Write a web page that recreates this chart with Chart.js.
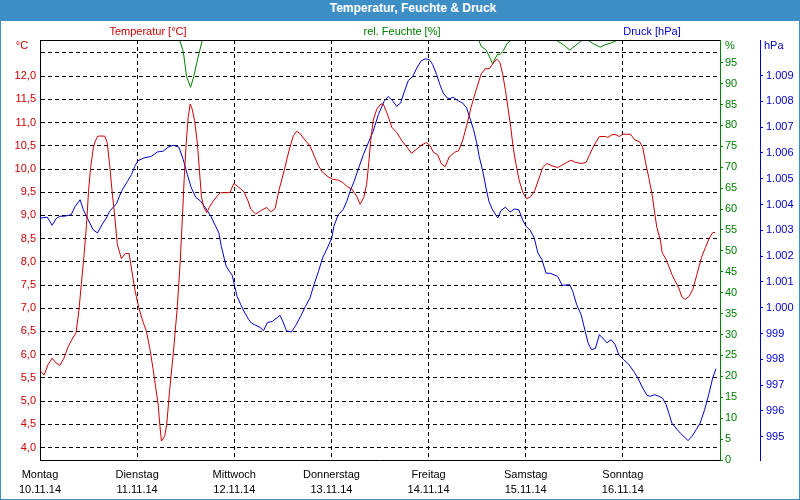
<!DOCTYPE html>
<html>
<head>
<meta charset="utf-8">
<script src="https://cdn.jsdelivr.net/npm/chart.js@4.4.0/dist/chart.umd.min.js"></script>
<style>
body { margin: 0; background: #fff; }
#frame { width: 798px; height: 498px; border: 1px solid #3d8ec4; position: relative; background: #fff; }
#title { height: 20px; line-height: 20px; background: #3d8ec4; color: #fff; font: bold 12px "Liberation Sans", Arial, sans-serif; text-align: center; padding-left: 26px; }
#chart { display: block; }
</style>
</head>
<body>
<div id="frame">
<div id="title">Temperatur, Feuchte &amp; Druck</div>
<canvas id="chart" width="798" height="478"></canvas>
</div>
<script>
const days = ['Montag', 'Dienstag', 'Mittwoch', 'Donnerstag', 'Freitag', 'Samstag', 'Sonntag'];
const dates = ['10.11.14', '11.11.14', '12.11.14', '13.11.14', '14.11.14', '15.11.14', '16.11.14'];

// hours since Monday 00:00
const tempHours = [0, 1.0, 2.0, 3.0, 4.0, 4.9, 5.9, 6.9, 7.9, 8.9, 9.6, 10.2, 10.9, 11.5, 12.0, 12.5, 13.2, 13.7, 14.3, 16.0,
    16.6, 17.2, 17.8, 18.5, 19.1, 20.1, 21.1, 22.0, 22.7, 23.5, 24.4, 25.4, 26.3, 27.1, 27.9, 28.5, 29.2, 29.6, 30.0, 30.8,
    31.3, 32.0, 32.9, 33.9, 34.6, 35.1, 35.6, 36.1, 36.6, 37.1, 37.6, 38.2, 38.9, 39.4, 39.9, 40.5, 41.2, 41.8, 42.8, 43.8,
    44.6, 46.9, 47.9, 49.2, 50.4, 51.4, 52.1, 53.3, 54.7, 56.0, 57.1, 58.1, 59.0, 60.3, 61.5, 62.6, 63.4, 64.2, 65.2, 66.7,
    67.7, 68.8, 69.8, 71.2, 72.3, 73.7, 74.8, 75.9, 77.0, 78.2, 79.1, 80.0, 80.7, 81.2, 81.7, 82.3, 83.2, 84.2, 84.8, 85.8,
    86.9, 88.1, 89.4, 90.6, 91.8, 93.1, 94.3, 95.5, 96.4, 97.2, 98.2, 99.2, 100.1, 101.1, 102.4, 103.4, 104.4, 105.4, 106.5, 107.7,
    109.0, 110.0, 111.0, 111.8, 112.8, 113.6, 114.3, 115.0, 115.6, 116.3, 116.9, 117.6, 118.4, 119.3, 120.2, 121.2, 122.2, 123.2, 124.2, 125.2,
    126.5, 127.9, 129.1, 130.1, 131.2, 132.4, 133.7, 134.9, 135.7, 136.8, 138.2, 139.7, 140.3, 141.3, 142.3, 143.1, 144.0, 145.9, 146.9, 148.1,
    148.9, 149.7, 150.4, 151.2, 151.9, 152.4, 153.3, 153.7, 154.7, 155.5, 156.1, 156.9, 157.8, 158.6, 159.4, 160.4, 161.3, 162.3, 163.4, 164.4,
    165.4, 166.2, 166.8];
const tempValues = [5.66, 5.56, 5.79, 5.92, 5.82, 5.77, 5.92, 6.16, 6.33, 6.47, 6.94, 7.51, 8.16, 8.81, 9.53, 10.03, 10.47, 10.61, 10.71, 10.71,
    10.57, 10.1, 9.53, 8.95, 8.38, 8.07, 8.18, 8.18, 7.8, 7.37, 7.01, 6.72, 6.5, 6.15, 5.71, 5.35, 4.92, 4.49, 4.14, 4.24,
    4.49, 5.21, 6.0, 7.0, 7.95, 8.81, 9.75, 10.54, 11.11, 11.40, 11.29, 11.04, 10.54, 9.96, 9.39, 9.17, 9.06, 9.17, 9.31, 9.42,
    9.49, 9.49, 9.69, 9.6, 9.51, 9.31, 9.13, 9.03, 9.11, 9.17, 9.08, 9.15, 9.53, 9.96, 10.39, 10.72, 10.81, 10.77, 10.65, 10.5,
    10.29, 10.07, 9.93, 9.83, 9.78, 9.76, 9.71, 9.62, 9.57, 9.42, 9.24, 9.39, 9.67, 10.11, 10.61, 11.04, 11.29, 11.40, 11.40, 11.19,
    10.9, 10.79, 10.61, 10.48, 10.34, 10.43, 10.52, 10.57, 10.5, 10.36, 10.31, 10.11, 10.05, 10.26, 10.36, 10.39, 10.61, 10.93, 11.33, 11.69,
    12.05, 12.16, 12.16, 12.26, 12.37, 12.3, 12.05, 11.69, 11.33, 10.9, 10.47, 10.1, 9.75, 9.49, 9.36, 9.4, 9.53, 9.78, 10.03, 10.12,
    10.07, 10.03, 10.09, 10.14, 10.19, 10.14, 10.12, 10.14, 10.29, 10.5, 10.7, 10.7, 10.68, 10.74, 10.74, 10.7, 10.75, 10.75, 10.63, 10.59,
    10.47, 10.1, 9.82, 9.46, 9.03, 8.74, 8.45, 8.2, 8.05, 7.87, 7.73, 7.59, 7.44, 7.24, 7.19, 7.26, 7.41, 7.73, 8.09, 8.31,
    8.52, 8.63, 8.63];

const presHours = [0, 1.8, 3.0, 4.0, 4.9, 6.1, 7.7, 8.7, 9.9, 10.7, 11.7, 13.1, 14.2, 15.3, 16.4, 17.2, 18.9, 20.1, 21.6, 22.6,
    23.4, 24.2, 25.7, 27.5, 29.0, 30.4, 31.6, 32.9, 34.3, 35.4, 36.4, 37.4, 38.5, 39.7, 40.9, 42.2, 43.4, 44.2, 44.8, 45.5,
    46.0, 46.8, 47.5, 48.1, 48.7, 49.6, 50.6, 51.6, 52.2, 53.3, 54.4, 55.2, 56.2, 57.4, 59.3, 60.0, 60.9, 62.1, 63.2, 64.4,
    65.6, 66.7, 67.7, 68.8, 69.8, 71.0, 72.1, 72.6, 73.7, 74.9, 75.8, 76.6, 77.6, 78.6, 79.9, 81.1, 82.3, 83.6, 85.0, 86.0,
    87.1, 88.1, 89.1, 89.9, 91.0, 92.1, 93.1, 94.1, 95.1, 96.2, 97.0, 98.0, 98.8, 99.6, 100.6, 101.3, 102.1, 103.2, 104.4, 105.4,
    106.2, 107.1, 107.9, 108.5, 109.4, 110.2, 110.9, 111.8, 113.1, 113.9, 115.0, 116.1, 117.2, 118.3, 119.3, 120.1, 121.1, 122.1, 123.0, 124.0,
    125.0, 126.2, 127.9, 129.0, 130.9, 131.6, 132.6, 133.7, 134.7, 135.4, 136.2, 137.2, 138.2, 139.0, 140.1, 141.1, 142.1, 143.0, 144.2, 145.4,
    146.7, 147.7, 148.9, 150.0, 150.8, 151.9, 152.9, 153.8, 154.7, 155.5, 156.1, 157.1, 158.2, 159.3, 160.1, 161.1, 162.1, 163.1, 164.2, 165.2,
    166.2, 167.0];
const presValues = [1003.48, 1003.51, 1003.2, 1003.46, 1003.55, 1003.55, 1003.61, 1003.93, 1004.19, 1003.8, 1003.48, 1003.03, 1002.9, 1003.22, 1003.48, 1003.74, 1004.04, 1004.51, 1004.9, 1005.16,
    1005.48, 1005.7, 1005.81, 1005.87, 1006.04, 1006.07, 1006.22, 1006.3, 1006.23, 1005.74, 1005.16, 1004.64, 1004.28, 1004.13, 1003.87, 1003.55, 1003.16, 1002.9, 1002.38, 1001.93,
    1001.61, 1001.41, 1001.26, 1000.83, 1000.44, 1000.12, 999.8, 999.54, 999.41, 999.32, 999.24, 999.11, 999.43, 999.47, 999.71, 999.47, 999.11, 999.06, 999.32, 999.67,
    1000.06, 1000.38, 1000.9, 1001.41, 1001.93, 1002.32, 1002.71, 1003.16, 1003.61, 1003.81, 1004.13, 1004.51, 1004.9, 1005.36, 1005.94, 1006.39, 1006.84, 1007.49, 1008.0, 1008.19,
    1008.03, 1007.81, 1007.94, 1008.33, 1008.81, 1008.97, 1009.3, 1009.56, 1009.65, 1009.62, 1009.43, 1009.04, 1008.65, 1008.33, 1008.13, 1008.11, 1008.16, 1008.03, 1007.94, 1007.75,
    1007.36, 1006.91, 1006.39, 1005.87, 1005.29, 1004.64, 1004.13, 1003.8, 1003.48, 1003.77, 1003.9, 1003.71, 1003.83, 1003.8, 1003.38, 1003.16, 1003.0, 1002.71, 1002.13, 1001.87,
    1001.35, 1001.33, 1001.22, 1000.87, 1000.9, 1000.64, 1000.12, 999.73, 999.09, 998.64, 998.38, 998.42, 998.96, 998.83, 998.64, 998.77, 998.57, 998.18, 997.99, 997.82,
    997.53, 997.28, 996.89, 996.6, 996.57, 996.63, 996.57, 996.5, 996.24, 995.85, 995.53, 995.34, 995.14, 994.98, 994.85, 995.02, 995.27, 995.53, 996.05, 996.63,
    997.28, 997.64];

// values above 100 lie above the top of the chart
const humHours = [0, 34.0, 34.5, 35.4, 36.2, 37.2, 38.0, 39.0, 40.1, 41.0, 107.5, 108.4, 109.0, 110.2, 111.2, 111.8, 112.5, 113.1, 113.6, 114.5,
    115.3, 116.4, 117.5, 126.5, 127.5, 129.3, 130.9, 132.4, 133.9, 134.5, 135.5, 136.8, 138.4, 139.6, 141.0, 142.1, 142.8, 144.0, 168];
const humValues = [101, 101, 100.4, 97.7, 91.75, 89.1, 91.75, 96.1, 100.4, 101, 101, 100.4, 98.9, 98.1, 96.1, 94.7, 96.1, 97.1, 96.9, 97.9,
    99.5, 100.4, 101, 101, 100.4, 99.3, 98.0, 99.2, 100.4, 100.6, 100.3, 99.5, 98.7, 99.3, 99.7, 100.1, 100.5, 101, 101];

const red = '#cc0000';
const green = '#008000';
const blue = '#0000cc';
const fontFamily = '"Liberation Sans", Arial, sans-serif';
const font = {family: fontFamily, size: 11};

function points(hours, values) {
    return hours.map((h, i) => ({x: h, y: values[i]}));
}

function hPa(v) {
    if (v >= 1000) return '1.' + String(Math.round(v - 1000)).padStart(3, '0');
    return String(v);
}

const topLabels = {
    id: 'topLabels',
    afterDraw(chart) {
        const ctx = chart.ctx;
        const area = chart.chartArea;
        ctx.save();
        ctx.strokeStyle = '#000';
        ctx.lineWidth = 1;
        ctx.beginPath();
        ctx.moveTo(area.left, area.top + 0.5);
        ctx.lineTo(area.right, area.top + 0.5);
        ctx.stroke();

        ctx.font = '11px ' + fontFamily;
        ctx.textBaseline = 'middle';
        ctx.textAlign = 'center';
        ctx.fillStyle = red;
        ctx.fillText('Temperatur [°C]', 147, 11);
        ctx.fillStyle = green;
        ctx.fillText('rel. Feuchte [%]', 401, 11);
        ctx.fillStyle = blue;
        ctx.fillText('Druck [hPa]', 651, 11);
        ctx.fillStyle = red;
        ctx.fillText('°C', 21, 25);
        ctx.textAlign = 'left';
        ctx.fillStyle = green;
        ctx.fillText('%', 724, 25);
        ctx.fillStyle = blue;
        ctx.fillText('hPa', 763, 25);
        ctx.restore();
    }
};

new Chart(document.getElementById('chart').getContext('2d'), {
    type: 'line',
    data: {
        datasets: [{
            label: 'Temperatur [°C]',
            data: points(tempHours, tempValues),
            borderColor: red,
            yAxisID: 'temp'
        }, {
            label: 'Druck [hPa]',
            data: points(presHours, presValues),
            borderColor: blue,
            yAxisID: 'pres'
        }, {
            label: 'rel. Feuchte [%]',
            data: points(humHours, humValues),
            borderColor: green,
            yAxisID: 'hum'
        }]
    },
    options: {
        responsive: false,
        animation: false,
        events: [],
        layout: {padding: {top: 19, left: 0, right: 0, bottom: 0}},
        elements: {
            line: {borderWidth: 1, tension: 0},
            point: {radius: 0}
        },
        plugins: {
            legend: {display: false},
            tooltip: {enabled: false}
        },
        scales: {
            x: {
                type: 'linear',
                min: 0,
                max: 168,
                afterFit: s => { s.height = 39; },
                ticks: {
                    stepSize: 24,
                    autoSkip: false,
                    maxRotation: 0,
                    padding: 7,
                    color: '#000',
                    font: {family: fontFamily, size: 11, lineHeight: 1.39},
                    callback: v => v < 168 ? [days[v / 24], dates[v / 24]] : ''
                },
                grid: {
                    drawTicks: false,
                    color: c => (c.tick && (c.tick.value === 0 || c.tick.value === 168)) ? 'rgba(0,0,0,0)' : '#000'
                },
                border: {color: '#000', dash: [4, 3]}
            },
            temp: {
                position: 'left',
                min: 3.73,
                max: 12.78,
                afterFit: s => { s.width = 39; },
                ticks: {
                    stepSize: 0.5,
                    includeBounds: false,
                    autoSkip: false,
                    padding: 4,
                    color: red,
                    font: font,
                    callback: v => v > 12.4 ? '' : v.toFixed(1).replace('.', ',')
                },
                grid: {color: '#000', drawTicks: false},
                border: {color: '#000', dash: [4, 3]}
            },
            hum: {
                position: 'right',
                min: 0,
                max: 100.43,
                afterFit: s => { s.width = 40; },
                ticks: {
                    stepSize: 5,
                    includeBounds: false,
                    autoSkip: false,
                    padding: 2,
                    color: green,
                    font: font,
                    callback: v => v >= 100 ? '' : String(v)
                },
                grid: {
                    drawOnChartArea: false,
                    tickLength: 3,
                    color: green,
                    tickColor: c => (c.tick && c.tick.value >= 100) ? 'rgba(0,0,0,0)' : green
                },
                border: {color: green}
            },
            pres: {
                position: 'right',
                min: 994.1,
                max: 1010.38,
                afterFit: s => { s.width = 39; },
                ticks: {
                    stepSize: 1,
                    includeBounds: false,
                    autoSkip: false,
                    padding: 3,
                    color: blue,
                    font: font,
                    callback: v => v >= 1010 ? '' : hPa(v)
                },
                grid: {
                    drawOnChartArea: false,
                    tickLength: 3,
                    color: blue,
                    tickColor: c => (c.tick && c.tick.value >= 1010) ? 'rgba(0,0,0,0)' : blue
                },
                border: {color: blue}
            }
        }
    },
    plugins: [topLabels]
});
</script>
</body>
</html>
